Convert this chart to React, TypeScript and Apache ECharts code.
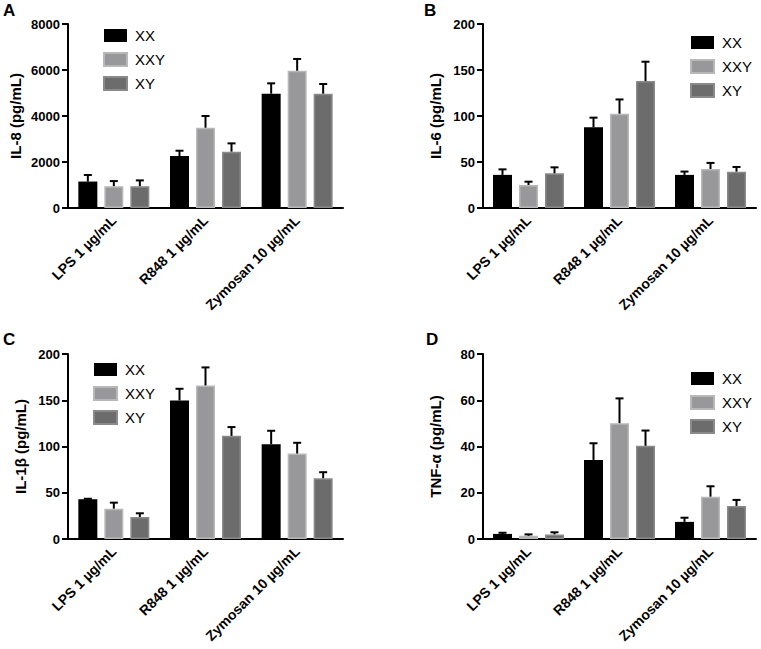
import React, { useEffect, useRef } from "react";
import * as echarts from "echarts";

const categories = ["LPS 1 µg/mL", "R848 1 µg/mL", "Zymosan 10 µg/mL"];
const groups = ["XX", "XXY", "XY"];

// Panel A: IL-8
const il8Mean = [
  [1150, 2260, 4970],
  [950, 3490, 5970],
  [950, 2450, 4970],
];
const il8Err = [
  [285, 230, 450],
  [220, 510, 510],
  [250, 360, 420],
];
// Panel B: IL-6
const il6Mean = [
  [36, 87.7, 36],
  [25, 102.5, 42.4],
  [37.7, 138, 39.5],
];
const il6Err = [
  [6, 10.5, 3.6],
  [3.6, 15.5, 6.6],
  [6.5, 21, 5.1],
];
// Panel C: IL-1β
const il1bMean = [
  [43, 149.8, 102.5],
  [32.8, 166, 92.4],
  [23.8, 111.5, 65.7],
];
const il1bErr = [
  [0.5, 12.6, 14.5],
  [6.5, 19.5, 11.6],
  [4, 9.5, 6.5],
];
// Panel D: TNF-α
const tnfMean = [
  [2.2, 34.2, 7.4],
  [1.4, 50.1, 18.3],
  [2.0, 40.3, 14.3],
];
const tnfErr = [
  [0.5, 7.2, 1.8],
  [0.6, 10.7, 4.5],
  [0.9, 6.6, 2.6],
];

const panelLetters = ["A", "B", "C", "D"];
const yTitles = ["IL-8 (pg/mL)", "IL-6 (pg/mL)", "IL-1β (pg/mL)", "TNF-α (pg/mL)"];
const yMax = [8000, 200, 200, 80];
const yInterval = [2000, 50, 50, 20];

const FONT = '"Liberation Sans", Arial, Helvetica, sans-serif';
const fills = ["#000000", "#98989b", "#6c6c6c"];
const borders = ["#000000", "#b8b8b8", "#8a8a8a"];

const BAR_W = 19;
const BAR_GAP_PX = 7;

export default function App() {
  const ref = useRef<HTMLDivElement>(null);
  useEffect(() => {
    if (!ref.current) return;
    const chart = echarts.init(ref.current, null, { renderer: "svg" });

    const means = [il8Mean, il6Mean, il1bMean, tnfMean];
    const errs = [il8Err, il6Err, il1bErr, tnfErr];

    const grids = [
      { left: 68, top: 24, width: 275, height: 184 },
      { left: 483, top: 24, width: 273, height: 184 },
      { left: 68, top: 354, width: 275, height: 185 },
      { left: 483, top: 354, width: 273, height: 185 },
    ];
    const nameGaps = [45, 40, 40, 40];
    const legendPos = [
      { left: 103, top: 28 },
      { left: 690, top: 35 },
      { left: 93, top: 362 },
      { left: 690, top: 371 },
    ];
    const letterPos = [
      { left: 3, top: 2 },
      { left: 424, top: 2 },
      { left: 3, top: 331 },
      { left: 426, top: 331 },
    ];

    const xAxes: any[] = [];
    const yAxes: any[] = [];
    const series: any[] = [];
    const legends: any[] = [];

    for (let p = 0; p < 4; p++) {
      xAxes.push({
        gridIndex: p,
        type: "category",
        data: categories,
        axisLine: { lineStyle: { color: "#000", width: 2 } },
        axisTick: { alignWithLabel: true, length: 6, lineStyle: { color: "#000", width: 2 } },
        axisLabel: {
          interval: 0,
          rotate: 45,
          margin: 10,
          color: "#000",
          fontFamily: FONT,
          fontWeight: "bold",
          fontSize: 14,
        },
        splitLine: { show: false },
      });
      yAxes.push({
        gridIndex: p,
        type: "value",
        min: 0,
        max: yMax[p],
        interval: yInterval[p],
        name: yTitles[p],
        nameLocation: "middle",
        nameGap: nameGaps[p],
        nameTextStyle: { color: "#000", fontFamily: FONT, fontWeight: "bold", fontSize: 15 },
        axisLine: { show: true, lineStyle: { color: "#000", width: 2 } },
        axisTick: { show: true, length: 6, lineStyle: { color: "#000", width: 2 } },
        axisLabel: {
          color: "#000",
          fontFamily: FONT,
          fontWeight: "bold",
          fontSize: 13,
          margin: 8,
          formatter: (v: number) => String(v),
        },
        splitLine: { show: false },
      });
      legends.push({
        ...legendPos[p],
        padding: 0,
        orient: "vertical",
        itemWidth: 23,
        itemHeight: 13,
        itemGap: 9,
        data: groups,
        selectedMode: false,
        icon: "rect",
        textStyle: { color: "#000", fontFamily: FONT, fontSize: 15, padding: [0, 0, 0, 3] },
      });
      for (let g = 0; g < 3; g++) {
        series.push({
          name: groups[g],
          type: "bar",
          xAxisIndex: p,
          yAxisIndex: p,
          barWidth: BAR_W,
          barGap: (BAR_GAP_PX / BAR_W) * 100 + "%",
          data: means[p][g],
          itemStyle: {
            color: fills[g],
            borderColor: borders[g],
            borderWidth: g === 0 ? 0 : 1.5,
          },
        });
      }
      for (let g = 0; g < 3; g++) {
        const offset = (g - 1) * (BAR_W + BAR_GAP_PX);
        series.push({
          type: "custom",
          xAxisIndex: p,
          yAxisIndex: p,
          z: 5,
          silent: true,
          data: means[p][g].map((m, i) => [i, m, m + errs[p][g][i]]),
          encode: { x: 0, y: [1, 2] },
          renderItem: (params: any, api: any) => {
            const base = api.coord([api.value(0), api.value(1)]);
            const top = api.coord([api.value(0), api.value(2)]);
            const x = base[0] + offset;
            const capHalf = 4;
            return {
              type: "group",
              children: [
                {
                  type: "line",
                  shape: { x1: x, y1: base[1], x2: x, y2: top[1] },
                  style: { stroke: "#000", lineWidth: 2 },
                },
                {
                  type: "line",
                  shape: { x1: x - capHalf, y1: top[1], x2: x + capHalf, y2: top[1] },
                  style: { stroke: "#000", lineWidth: 2 },
                },
              ],
            };
          },
        });
      }
    }

    chart.setOption({
      animation: false,
      backgroundColor: "#fff",
      grid: grids,
      xAxis: xAxes,
      yAxis: yAxes,
      legend: legends,
      series,
      graphic: panelLetters.map((l, i) => ({
        type: "text",
        left: letterPos[i].left,
        top: letterPos[i].top,
        style: { text: l, fill: "#000", font: `bold 17px ${FONT}` },
      })),
    });
    return () => chart.dispose();
  }, []);

  return (
    <div
      ref={ref}
      style={{ position: "absolute", left: 0, top: 0, width: 761, height: 649 }}
    />
  );
}
